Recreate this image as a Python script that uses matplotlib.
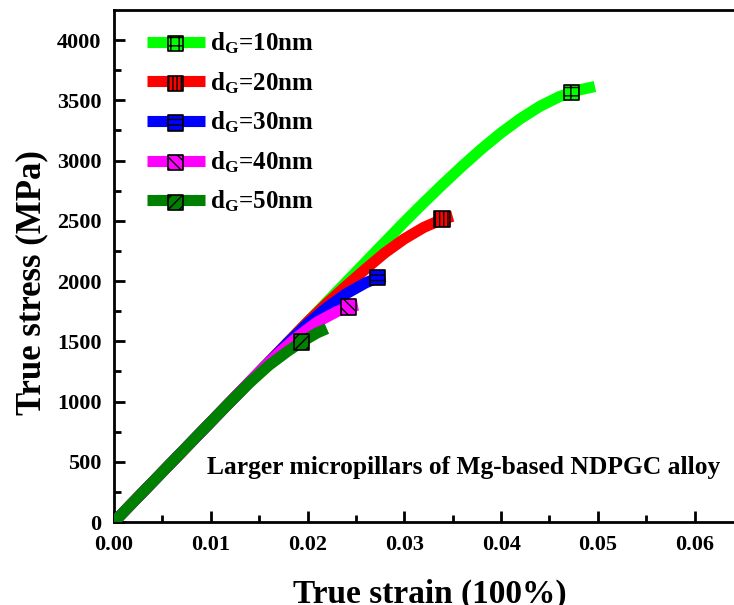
import matplotlib
matplotlib.use('Agg')
import matplotlib.pyplot as plt
from matplotlib.legend_handler import HandlerTuple

# tensile curves
strain_10 = [0, 0.005, 0.010, 0.015, 0.020, 0.025, 0.030, 0.032, 0.034, 0.036, 0.038,
             0.040, 0.042, 0.044, 0.046, 0.048, 0.0497]
stress_10 = [0, 415, 830, 1245, 1660, 2075, 2490, 2650, 2805, 2955, 3098,
             3230, 3348, 3450, 3530, 3585, 3615]

strain_20 = [0, 0.005, 0.010, 0.015, 0.020, 0.022, 0.024, 0.026, 0.028, 0.030, 0.032, 0.034, 0.035]
stress_20 = [0, 415, 830, 1245, 1660, 1815, 1960, 2100, 2235, 2350, 2445, 2515, 2538]

strain_30 = [0, 0.005, 0.010, 0.014, 0.016, 0.018, 0.020, 0.022, 0.024, 0.026, 0.0272, 0.028]
stress_30 = [0, 415, 830, 1160, 1325, 1490, 1645, 1780, 1895, 1985, 2025, 2040]

strain_40 = [0, 0.005, 0.010, 0.013, 0.015, 0.017, 0.019, 0.021, 0.023, 0.0242, 0.0252]
stress_40 = [0, 415, 830, 1080, 1245, 1400, 1540, 1660, 1745, 1785, 1800]

strain_50 = [0, 0.005, 0.010, 0.012, 0.014, 0.016, 0.018, 0.0194, 0.021, 0.022]
stress_50 = [0, 415, 830, 995, 1155, 1300, 1420, 1495, 1570, 1605]

marker_strain = [0.0473, 0.0339, 0.0272, 0.0242, 0.0194]
marker_stress = [3565, 2515, 2030, 1785, 1495]

labels = [r'd$_\mathrm{G}$=10nm', r'd$_\mathrm{G}$=20nm', r'd$_\mathrm{G}$=30nm',
          r'd$_\mathrm{G}$=40nm', r'd$_\mathrm{G}$=50nm']
colors = ['#00ff00', '#ff0000', '#0000ff', '#ff00ff', '#008000']
hatches = ['++', '||||', '---', '\\\\\\', '///']

plt.rcParams['font.family'] = 'Liberation Serif'
plt.rcParams['font.weight'] = 'bold'
plt.rcParams['mathtext.fontset'] = 'custom'
plt.rcParams['mathtext.rm'] = 'Liberation Serif:bold'
plt.rcParams['mathtext.bf'] = 'Liberation Serif:bold'
plt.rcParams['mathtext.it'] = 'Liberation Serif:italic:bold'
plt.rcParams['hatch.linewidth'] = 1.0

fig = plt.figure(figsize=(7.34, 6.05), dpi=100)
ax = fig.add_axes([114 / 734, 83 / 605, 629 / 734, 512 / 605])

curves = [(strain_10, stress_10), (strain_20, stress_20), (strain_30, stress_30),
          (strain_40, stress_40), (strain_50, stress_50)]
handles = []
for i, (sx, sy) in enumerate(curves):
    ln, = ax.plot(sx, sy, color=colors[i], lw=8, solid_capstyle='butt',
                  solid_joinstyle='round', zorder=2 + i)
    sc = ax.scatter([marker_strain[i]], [marker_stress[i]], marker='s', s=120,
                    facecolor=colors[i], edgecolor='black', linewidths=1.2,
                    hatch=hatches[i], zorder=10)
    handles.append((ln, sc))

ax.set_xlim(0, 0.065)
ax.set_ylim(0, 4250)
ax.set_xticks([0, 0.01, 0.02, 0.03, 0.04, 0.05, 0.06])
ax.set_xticklabels(['0.00', '0.01', '0.02', '0.03', '0.04', '0.05', '0.06'])
ax.set_yticks(range(0, 4001, 500))
ax.set_xticks([0.005, 0.015, 0.025, 0.035, 0.045, 0.055, 0.065], minor=True)
ax.set_yticks(range(250, 4250, 500), minor=True)
ax.tick_params(axis='both', which='major', direction='in', length=8, width=2,
               labelsize=16, pad=9)
ax.tick_params(axis='both', which='minor', direction='in', length=5, width=2)
ax.tick_params(top=False, right=False, which='both')
for sp in ax.spines.values():
    sp.set_linewidth(2)

ax.set_xlabel('True strain (100%)', fontsize=24, fontweight='bold')
ax.set_ylabel('True stress (MPa)', fontsize=25, fontweight='bold')
ax.xaxis.set_label_coords(0.502, -0.11)
ax.yaxis.set_label_coords(-0.105, 0.467)

ax.text(0.556, 0.107, 'Larger micropillars of Mg-based NDPGC alloy', transform=ax.transAxes,
        fontsize=18.4, fontweight='bold', ha='center', va='center')

ax.legend(handles, labels, loc='upper left', bbox_to_anchor=(0.0167, 1.004), frameon=False,
          fontsize=18, handlelength=2.3, handletextpad=0.2, labelspacing=0.56,
          scatterpoints=1, handler_map={tuple: HandlerTuple(ndivide=1)})

fig.savefig('out.png', dpi=100)
